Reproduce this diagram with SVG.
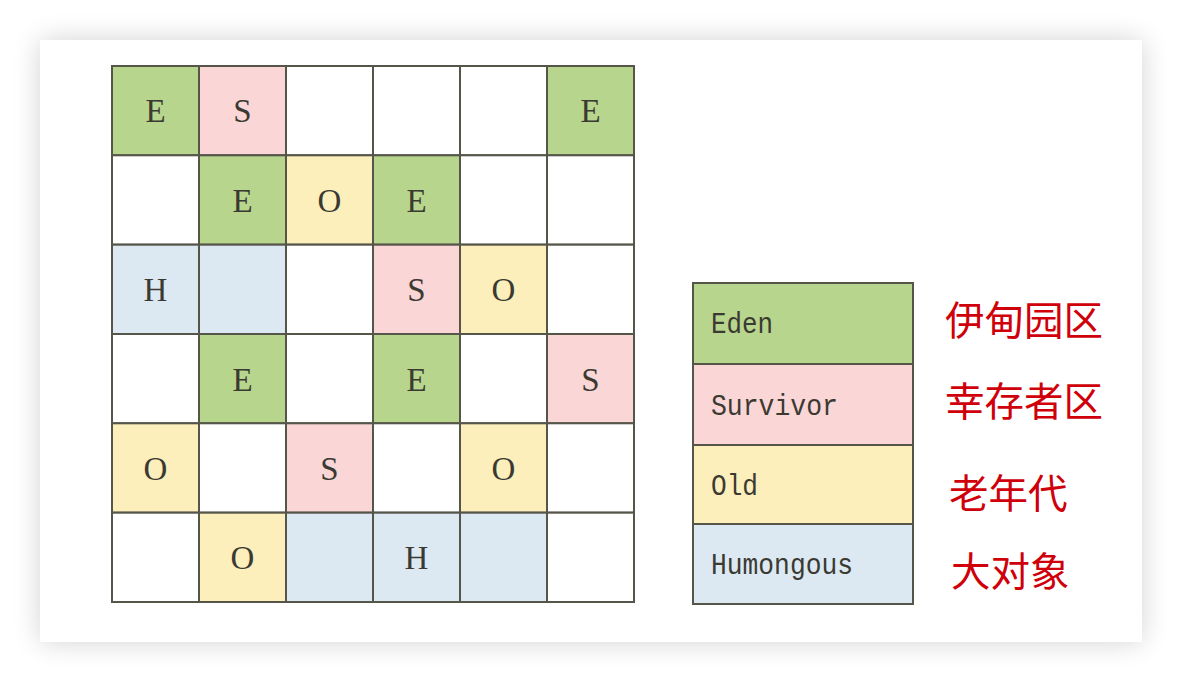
<svg xmlns="http://www.w3.org/2000/svg" width="1182" height="682" viewBox="0 0 1182 682">
<defs>
<filter id="sh" x="-10%" y="-10%" width="120%" height="120%">
<feGaussianBlur in="SourceAlpha" stdDeviation="14"/>
<feComponentTransfer><feFuncA type="linear" slope="0.18"/></feComponentTransfer>
<feMerge><feMergeNode/><feMergeNode in="SourceGraphic"/></feMerge>
</filter>
</defs>
<style>
.g{fill:#b7d58c}.p{fill:#fbd6d6}.y{fill:#fcefbb}.b{fill:#dce8f2}.w{fill:#ffffff}
.c{stroke:#55554a;stroke-width:2}
.t{font-family:"Liberation Serif",serif;font-size:33px;fill:#3a3a32;text-anchor:middle}
.l{font-family:"Liberation Mono",monospace;font-size:30px;fill:#3a3a32}
.z{font-family:"Noto Sans CJK SC",sans-serif;font-size:39.5px;fill:#d0000a}
</style>
<rect x="0" y="0" width="1182" height="682" fill="#ffffff"/>
<rect x="40" y="40" width="1102" height="602" fill="#ffffff" filter="url(#sh)"/>
<g id="grid">
<g id="r0c0"><rect class="g c" x="112" y="66" width="87" height="89.3"/><text class="t" x="155.5" y="122">E</text></g>
<g id="r0c1"><rect class="p c" x="199" y="66" width="87" height="89.3"/><text class="t" x="242.5" y="122">S</text></g>
<g id="r0c2"><rect class="w c" x="286" y="66" width="87" height="89.3"/></g>
<g id="r0c3"><rect class="w c" x="373" y="66" width="87" height="89.3"/></g>
<g id="r0c4"><rect class="w c" x="460" y="66" width="87" height="89.3"/></g>
<g id="r0c5"><rect class="g c" x="547" y="66" width="87" height="89.3"/><text class="t" x="590.5" y="122">E</text></g>

<g id="r1c0"><rect class="w c" x="112" y="155.3" width="87" height="89.3"/></g>
<g id="r1c1"><rect class="g c" x="199" y="155.3" width="87" height="89.3"/><text class="t" x="242.5" y="212">E</text></g>
<g id="r1c2"><rect class="y c" x="286" y="155.3" width="87" height="89.3"/><text class="t" x="329.5" y="212">O</text></g>
<g id="r1c3"><rect class="g c" x="373" y="155.3" width="87" height="89.3"/><text class="t" x="416.5" y="212">E</text></g>
<g id="r1c4"><rect class="w c" x="460" y="155.3" width="87" height="89.3"/></g>
<g id="r1c5"><rect class="w c" x="547" y="155.3" width="87" height="89.3"/></g>

<g id="r2c0"><rect class="b c" x="112" y="244.7" width="87" height="89.3"/><text class="t" x="155.5" y="301">H</text></g>
<g id="r2c1"><rect class="b c" x="199" y="244.7" width="87" height="89.3"/></g>
<g id="r2c2"><rect class="w c" x="286" y="244.7" width="87" height="89.3"/></g>
<g id="r2c3"><rect class="p c" x="373" y="244.7" width="87" height="89.3"/><text class="t" x="416.5" y="301">S</text></g>
<g id="r2c4"><rect class="y c" x="460" y="244.7" width="87" height="89.3"/><text class="t" x="503.5" y="301">O</text></g>
<g id="r2c5"><rect class="w c" x="547" y="244.7" width="87" height="89.3"/></g>

<g id="r3c0"><rect class="w c" x="112" y="334" width="87" height="89.3"/></g>
<g id="r3c1"><rect class="g c" x="199" y="334" width="87" height="89.3"/><text class="t" x="242.5" y="391">E</text></g>
<g id="r3c2"><rect class="w c" x="286" y="334" width="87" height="89.3"/></g>
<g id="r3c3"><rect class="g c" x="373" y="334" width="87" height="89.3"/><text class="t" x="416.5" y="391">E</text></g>
<g id="r3c4"><rect class="w c" x="460" y="334" width="87" height="89.3"/></g>
<g id="r3c5"><rect class="p c" x="547" y="334" width="87" height="89.3"/><text class="t" x="590.5" y="391">S</text></g>

<g id="r4c0"><rect class="y c" x="112" y="423.3" width="87" height="89.3"/><text class="t" x="155.5" y="480">O</text></g>
<g id="r4c1"><rect class="w c" x="199" y="423.3" width="87" height="89.3"/></g>
<g id="r4c2"><rect class="p c" x="286" y="423.3" width="87" height="89.3"/><text class="t" x="329.5" y="480">S</text></g>
<g id="r4c3"><rect class="w c" x="373" y="423.3" width="87" height="89.3"/></g>
<g id="r4c4"><rect class="y c" x="460" y="423.3" width="87" height="89.3"/><text class="t" x="503.5" y="480">O</text></g>
<g id="r4c5"><rect class="w c" x="547" y="423.3" width="87" height="89.3"/></g>

<g id="r5c0"><rect class="w c" x="112" y="512.7" width="87" height="89.3"/></g>
<g id="r5c1"><rect class="y c" x="199" y="512.7" width="87" height="89.3"/><text class="t" x="242.5" y="569">O</text></g>
<g id="r5c2"><rect class="b c" x="286" y="512.7" width="87" height="89.3"/></g>
<g id="r5c3"><rect class="b c" x="373" y="512.7" width="87" height="89.3"/><text class="t" x="416.5" y="569">H</text></g>
<g id="r5c4"><rect class="b c" x="460" y="512.7" width="87" height="89.3"/></g>
<g id="r5c5"><rect class="w c" x="547" y="512.7" width="87" height="89.3"/></g>
</g>
<g id="legend">
<g id="leg-eden"><rect class="g c" x="693" y="283" width="220" height="81"/><text class="l" x="711" y="333" textLength="62" lengthAdjust="spacingAndGlyphs">Eden</text><text class="z" x="945" y="335">伊甸园区</text></g>
<g id="leg-survivor"><rect class="p c" x="693" y="364" width="220" height="81"/><text class="l" x="711" y="415" textLength="127" lengthAdjust="spacingAndGlyphs">Survivor</text><text class="z" x="945" y="416">幸存者区</text></g>
<g id="leg-old"><rect class="y c" x="693" y="445" width="220" height="79"/><text class="l" x="711" y="495" textLength="47" lengthAdjust="spacingAndGlyphs">Old</text><text class="z" x="949" y="508">老年代</text></g>
<g id="leg-humongous"><rect class="b c" x="693" y="524" width="220" height="80"/><text class="l" x="711" y="574" textLength="142" lengthAdjust="spacingAndGlyphs">Humongous</text><text class="z" x="951" y="586">大对象</text></g>
</g>
<g id="connectors"/>
</svg>
